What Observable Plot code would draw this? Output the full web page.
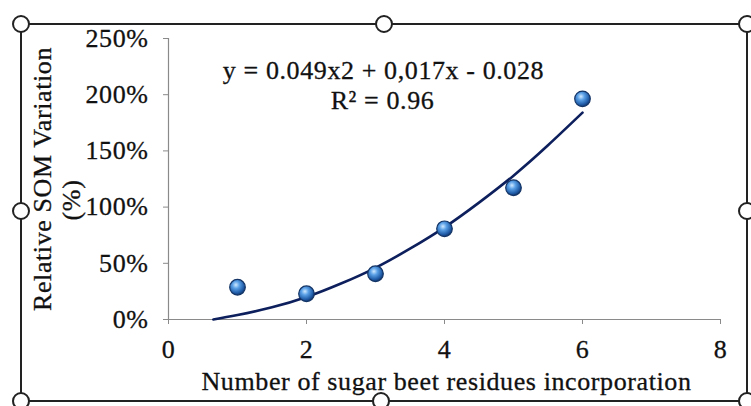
<!DOCTYPE html>
<html><head><meta charset="utf-8">
<script src="https://cdn.jsdelivr.net/npm/d3@7"></script>
<script src="https://cdn.jsdelivr.net/npm/@observablehq/plot@0.6"></script>
<style>body{margin:0;background:#fff;} #chart{position:relative;width:751px;height:406px;overflow:hidden} #chart svg text{letter-spacing:0.6px}</style>
</head><body><div id="chart"></div>
<script>
// Data
const incorporations = [1, 2, 3, 4, 5, 6];
const somVariation = [0.287, 0.229, 0.407, 0.807, 1.172, 1.963];
// Trendline as drawn
const trendX = [0.65, 1, 1.5, 2, 2.5, 3, 3.5, 4, 4.5, 5, 5.5, 6];
const trendY = [0, 0.04, 0.108, 0.20, 0.32, 0.46, 0.63, 0.82, 1.04, 1.28, 1.55, 1.84];
const xTicks = [0, 2, 4, 6, 8];
const yTicks = [0, 0.5, 1, 1.5, 2, 2.5];
const equationLines = ["y = 0.049x2 + 0,017x - 0.028", "R\u00B2 = 0.96"];
const xTitle = "Number of sugar beet residues incorporation";
const yTitleLines = ["Relative SOM Variation", "(%)"];

const points = incorporations.map((x, i) => ({x, y: somVariation[i]}));
const trend = trendX.map((x, i) => ({x, y: trendY[i]}));

const serif = '"Liberation Serif","Times New Roman",serif';
const axisGray = "#8a8a8a";
const fs = 26;
const ink = "#111";
const textStyle = {fontSize: fs, fill: ink, stroke: ink, strokeWidth: 0.3, textAnchor: "middle", lineAnchor: "middle"};

const plot = Plot.plot({
  width: 751, height: 406,
  marginLeft: 168, marginRight: 31, marginTop: 38, marginBottom: 87,
  style: {fontFamily: serif, fontSize: fs + "px", color: ink, background: "#fff", overflow: "visible"},
  x: {domain: [0, 8]},
  y: {domain: [0, 2.5]},
  marks: [
    Plot.ruleY([0], {stroke: axisGray, strokeWidth: 1.2}),
    Plot.ruleX([0], {stroke: axisGray, strokeWidth: 1.2}),
    Plot.axisX(xTicks, {tickSize: 5, tickPadding: 15, stroke: axisGray, fill: ink, fontSize: fs, label: null, tickFormat: d => String(d)}),
    Plot.axisY(yTicks, {tickSize: 5, tickPadding: 15, stroke: axisGray, fill: ink, fontSize: fs, label: null, tickFormat: d => Math.round(d * 100) + "%"}),
    Plot.line(trend, {x: "x", y: "y", curve: "natural", stroke: "#0d1f5c", strokeWidth: 2.6}),
    Plot.dot(points, {x: "x", y: "y", r: 7.8, fill: "url(#sphereGrad)", stroke: "#143566", strokeWidth: 1.2}),
    Plot.text([equationLines[0]], {...textStyle, frameAnchor: "top", dx: -61, dy: 32}),
    Plot.text([equationLines[1]], {...textStyle, frameAnchor: "top", dx: -62, dy: 62}),
    Plot.text([xTitle], {...textStyle, frameAnchor: "bottom", dx: 2, dy: 62}),
    Plot.text([yTitleLines[0]], {...textStyle, frameAnchor: "left", dx: -126, dy: 0, rotate: -90}),
    Plot.text([yTitleLines[1]], {...textStyle, frameAnchor: "left", dx: -97, dy: 21, rotate: -90})
  ]
});

const svg = d3.select(plot);
svg.selectAll("g[aria-label='x-axis tick label'] text, g[aria-label='y-axis tick label'] text")
  .attr("stroke", ink).attr("stroke-width", 0.3);
const defs = svg.insert("defs", ":first-child");
const g = defs.append("radialGradient").attr("id", "sphereGrad").attr("cx", "40%").attr("cy", "35%").attr("r", "65%");
g.append("stop").attr("offset", "0%").attr("stop-color", "#cfe8ff");
g.append("stop").attr("offset", "35%").attr("stop-color", "#5aa0e6");
g.append("stop").attr("offset", "80%").attr("stop-color", "#1f5aa6");
g.append("stop").attr("offset", "100%").attr("stop-color", "#143a72");

// selection frame decoration (not data)
const frame = svg.append("g").attr("fill", "none").attr("stroke", "#222").attr("stroke-width", 2);
frame.append("rect").attr("x", 21).attr("y", 24).attr("width", 726).attr("height", 377);
const handles = [[21,24],[384,24],[747,24],[21,211],[747,211],[21,401],[381,401],[747,401]];
frame.selectAll("circle").data(handles).join("circle")
  .attr("cx", d => d[0]).attr("cy", d => d[1]).attr("r", 8).attr("fill", "#fff");

document.getElementById("chart").appendChild(plot);
</script>
</body></html>
